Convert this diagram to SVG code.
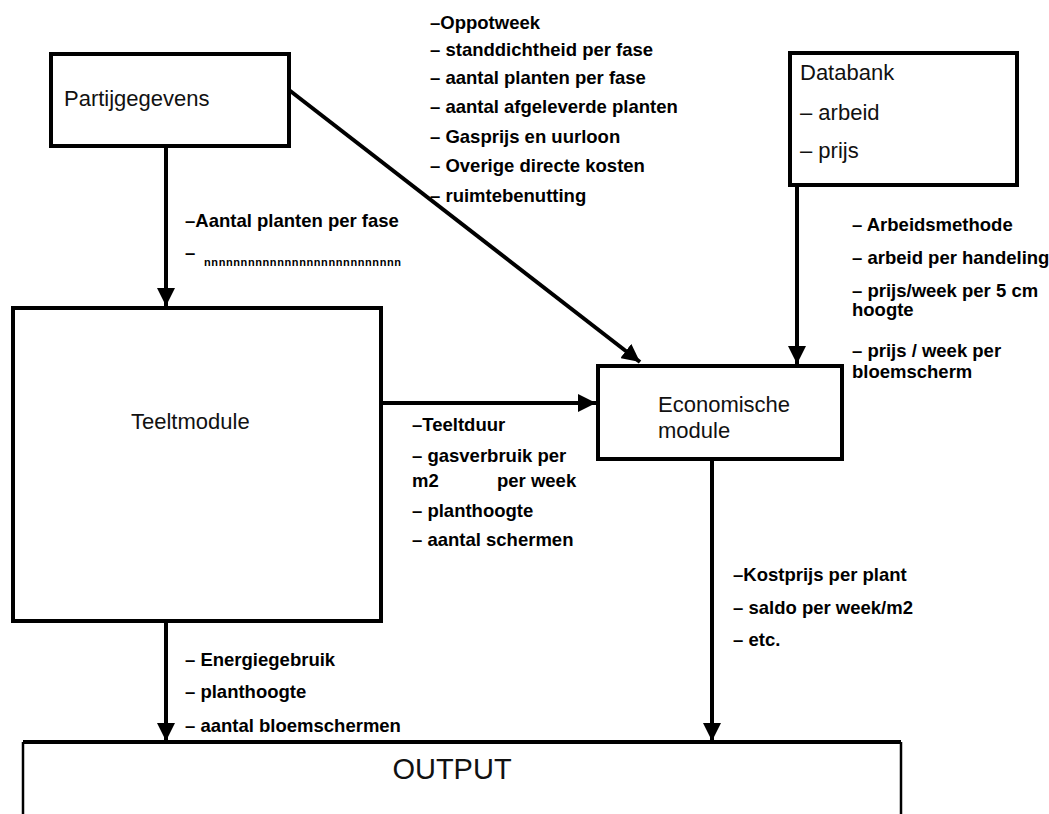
<svg xmlns="http://www.w3.org/2000/svg" width="1049" height="814" viewBox="0 0 1049 814">
<defs>
<style>
.box{fill:#fff;stroke:#000;stroke-width:4}
.t{font-family:"Liberation Sans",Arial,sans-serif;font-size:22px;fill:#111}
.b{font-family:"Liberation Sans",Arial,sans-serif;font-size:18.5px;font-weight:bold;fill:#000}
.c{stroke:#000;stroke-width:4;fill:none}
</style>
<marker id="ah" viewBox="0 0 10 10" refX="10" refY="5" markerWidth="4.5" markerHeight="4.5" orient="auto" markerUnits="strokeWidth">
<path d="M0,0 L10,5 L0,10 Z" fill="#000"/>
</marker>
</defs>
<rect width="1049" height="814" fill="#fff"/>
<g id="connectors">
<line class="c" x1="166" y1="146" x2="166" y2="306" marker-end="url(#ah)"/>
<line class="c" x1="289" y1="90" x2="640" y2="362" stroke-width="5" marker-end="url(#ah)"/>
<line class="c" x1="797" y1="185" x2="797" y2="364" marker-end="url(#ah)"/>
<line class="c" x1="381" y1="403" x2="596" y2="403" marker-end="url(#ah)"/>
<line class="c" x1="166" y1="621" x2="166" y2="741" marker-end="url(#ah)"/>
<line class="c" x1="712" y1="459" x2="712" y2="741" marker-end="url(#ah)"/>
</g>
<g id="partijgegevens">
<rect class="box" x="51" y="54" width="238" height="92"/>
<text class="t" x="64" y="106">Partijgegevens</text>
</g>
<g id="databank">
<rect class="box" x="790" y="53" width="227" height="132"/>
<text class="t" x="800" y="80">Databank</text>
<text class="t" x="800" y="120">– arbeid</text>
<text class="t" x="800" y="158">– prijs</text>
</g>
<g id="teeltmodule">
<rect class="box" x="13" y="308" width="368" height="313"/>
<text class="t" x="131" y="429">Teeltmodule</text>
</g>
<g id="economische">
<rect class="box" x="598" y="366" width="244" height="93"/>
<text class="t" x="658" y="412">Economische</text>
<text class="t" x="658" y="438">module</text>
</g>
<g id="output">
<line x1="23" y1="742" x2="901" y2="742" stroke="#000" stroke-width="4"/>
<line x1="23" y1="742" x2="23" y2="820" stroke="#000" stroke-width="2.5"/>
<line x1="901" y1="742" x2="901" y2="820" stroke="#000" stroke-width="2.5"/>
<text class="t" x="452" y="779" text-anchor="middle" style="font-size:29px">OUTPUT</text>
</g>
<g id="labels-top">
<text class="b" x="430" y="29">–Oppotweek</text>
<text class="b" x="430" y="56">– standdichtheid per fase</text>
<text class="b" x="430" y="84">– aantal planten per fase</text>
<text class="b" x="430" y="113">– aantal afgeleverde planten</text>
<text class="b" x="430" y="143">– Gasprijs en uurloon</text>
<text class="b" x="430" y="172">– Overige directe kosten</text>
<text class="b" x="430" y="202">– ruimtebenutting</text>
</g>
<g id="labels-partij">
<text class="b" x="185" y="227">–Aantal planten per fase</text>
<text class="b" x="185" y="259">–</text>
<text x="204" y="266" font-family="Liberation Sans,Arial,sans-serif" font-size="11" font-weight="bold" letter-spacing="0.6">nnnnnnnnnnnnnnnnnnnnnnnnnnn</text>
</g>
<g id="labels-databank">
<text class="b" x="852" y="231">– Arbeidsmethode</text>
<text class="b" x="852" y="264">– arbeid per handeling</text>
<text class="b" x="852" y="297">– prijs/week  per 5 cm</text>
<text class="b" x="852" y="316">hoogte</text>
<text class="b" x="852" y="357">– prijs / week per</text>
<text class="b" x="852" y="378">bloemscherm</text>
</g>
<g id="labels-teelt-eco">
<text class="b" x="412" y="431">–Teeltduur</text>
<text class="b" x="412" y="462">– gasverbruik per</text>
<text class="b" x="412" y="487">m2</text>
<text class="b" x="497" y="487">per week</text>
<text class="b" x="412" y="517">– planthoogte</text>
<text class="b" x="412" y="546">– aantal schermen</text>
</g>
<g id="labels-eco-output">
<text class="b" x="733" y="581">–Kostprijs per plant</text>
<text class="b" x="733" y="614">– saldo per week/m2</text>
<text class="b" x="733" y="646">– etc.</text>
</g>
<g id="labels-teelt-output">
<text class="b" x="185" y="666">– Energiegebruik</text>
<text class="b" x="185" y="698">– planthoogte</text>
<text class="b" x="185" y="732">– aantal bloemschermen</text>
</g>
</svg>
